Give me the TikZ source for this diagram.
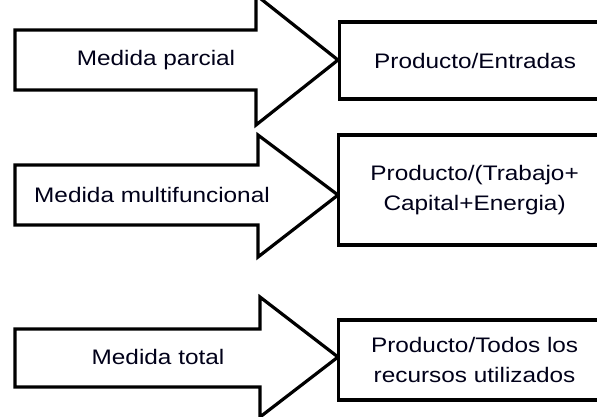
\documentclass[tikz,border=0pt]{standalone}
\usepackage{fontspec}
\setmainfont[FakeStretch=1.16]{Liberation Sans}
\begin{document}
\begin{tikzpicture}[x=1pt,y=-1pt,
  outl/.style={draw=black,line width=3.2pt,line join=miter},
  lbl/.style={font=\fontsize{21}{30}\selectfont,text=black!90!blue,align=center,inner sep=0pt},
  resbox/.style={outl,fill=white,anchor=west,minimum width=272pt,font=\fontsize{21}{30}\selectfont,text=black!90!blue,align=center,inner sep=0pt}]
\useasboundingbox (0,0) rectangle (597,416);
\clip (0,0) rectangle (597,416);
\fill[white] (0,0) rectangle (597,416);
% arrow 1
\draw[outl,fill=white] (15,30) -- (256,30) -- (256,-5) -- (338,60) -- (256,125) -- (256,90) -- (15,90) -- cycle;
\node[lbl] (a1) at (156,60) {Medida parcial};
\node[resbox,minimum height=77pt] (b1) at (338,60.5) {\hspace*{-1pt}Producto/Entradas};
% arrow 2
\draw[outl,fill=white] (15,165) -- (258,165) -- (258,135) -- (338,195) -- (258,257) -- (258,225) -- (15,225) -- cycle;
\node[lbl] (a2) at (152,195) {Medida multifuncional};
\node[resbox,minimum height=110pt] (b2) at (337,190) {Producto/(Trabajo+\\Capital+Energia)};
% arrow 3
\draw[outl,fill=white] (15,329) -- (260,329) -- (260,297) -- (338,357) -- (260,417) -- (260,387) -- (15,387) -- cycle;
\node[lbl] (a3) at (158,357) {Medida total};
\node[resbox,minimum height=80pt] (b3) at (337,360) {Producto/Todos los\\recursos utilizados};
\end{tikzpicture}
\end{document}
